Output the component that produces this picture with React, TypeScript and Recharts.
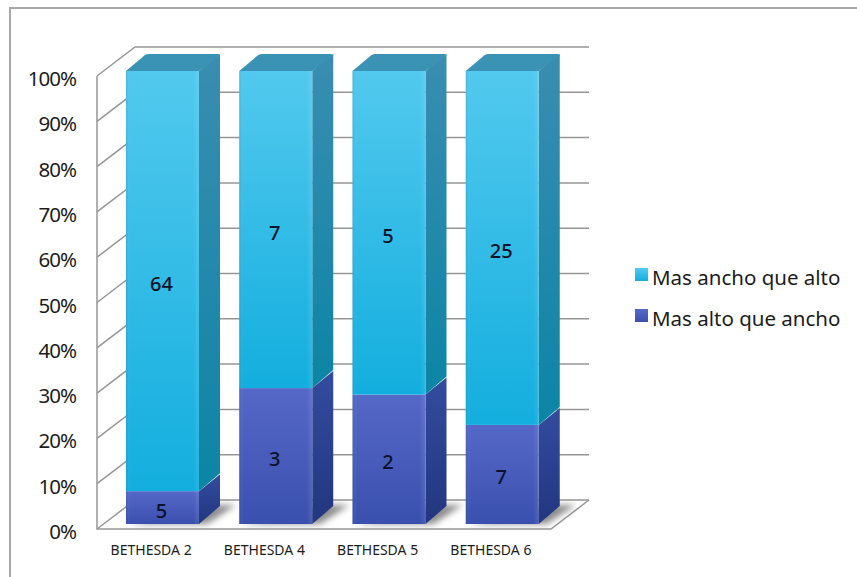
import { Bar, BarChart, CartesianGrid, LabelList, Legend, XAxis, YAxis } from "recharts";

const categories = ["BETHESDA 2", "BETHESDA 4", "BETHESDA 5", "BETHESDA 6"];
const masAltoQueAncho = [5, 3, 2, 7];
const masAnchoQueAlto = [64, 7, 5, 25];
const percentTicks = [0, 0.1, 0.2, 0.3, 0.4, 0.5, 0.6, 0.7, 0.8, 0.9, 1];

const chartData = categories.map((name, i) => ({ name, alto: masAltoQueAncho[i], ancho: masAnchoQueAlto[i] }));

const FONT = "'Noto Sans', sans-serif";
const GRID = "#969696";
const PLOT_TOP = 71;
const PLOT_BOTTOM = 524;
// fake perspective: bar depth, and wall position relative to the bars
const BAR_DX = 21;
const BAR_DY = -17;
const WALL_LEFT = 97;
const WALL_DX = 38;
const WALL_DY = -29;
const WALL_RIGHT = 589;
const FRONT_OFFSET = 5;

function WallLine(props: any) {
  const y = props.y1 + FRONT_OFFSET;
  const isFloor = Math.abs(props.y1 - PLOT_BOTTOM) < 1;
  return (
    <g fill="none" stroke={GRID} strokeWidth={1.5}>
      <path d={`M${WALL_LEFT} ${y}L${WALL_LEFT + WALL_DX} ${y + WALL_DY}L${WALL_RIGHT} ${y + WALL_DY}`} />
      {isFloor && (
        <path
          d={`M${WALL_LEFT} ${PLOT_TOP + FRONT_OFFSET}L${WALL_LEFT} ${y}L${WALL_RIGHT - WALL_DX} ${y}L${WALL_RIGHT} ${y + WALL_DY}`}
        />
      )}
    </g>
  );
}

function Bar3D(props: any) {
  const { x, y, width, height, front, side, withTop, withShadow } = props;
  const r = x + width;
  const b = y + height;
  return (
    <g>
      {withShadow && (
        <path
          d={`M${x + 2} ${b}L${r + 8} ${b}L${r + BAR_DX + 16} ${b + BAR_DY - 2}L${r + BAR_DX - 6} ${b + BAR_DY - 2}Z`}
          fill="#8c8c8c"
          filter="url(#floorShadow)"
        />
      )}
      <path
        d={`M${r} ${y}L${r + BAR_DX} ${y + BAR_DY}L${r + BAR_DX} ${b + BAR_DY - 1}L${r} ${b}Z`}
        fill={`url(#${side})`}
      />
      {withTop && (
        <path
          d={`M${x} ${y}L${x + BAR_DX - 2} ${y + BAR_DY + 1}Q${x + BAR_DX} ${y + BAR_DY} ${x + BAR_DX + 2} ${y + BAR_DY}L${r + BAR_DX - 2} ${y + BAR_DY}Q${r + BAR_DX} ${y + BAR_DY} ${r + BAR_DX} ${y + BAR_DY + 2}L${r} ${y}Z`}
          fill="#3a92b4"
        />
      )}
      <rect x={x} y={y} width={width} height={height} fill={`url(#${front})`} />
      <rect x={x} y={y} width={width} height={height} fill="url(#frontSheen)" />
    </g>
  );
}

function YTick({ y, payload }: any) {
  return (
    <text x={76} y={y + 15} textAnchor="end" fontFamily={FONT} fontSize={20.5} letterSpacing={-1} fill="#1c1c1c">
      {`${Math.round(payload.value * 100)}%`}
    </text>
  );
}

function XTick({ x, y, payload }: any) {
  return (
    <text x={x - 11.5} y={y + 23} textAnchor="middle" fontFamily={FONT} fontSize={14} fill="#1c1c1c">
      {payload.value}
    </text>
  );
}

function CountLabel({ x, y, width, height, value }: any) {
  return (
    <text
      x={x + width / 2 - 1}
      y={y + height / 2 + 10}
      textAnchor="middle"
      fontFamily={FONT}
      fontSize={20}
      fontWeight={500}
      fill="#0b1229"
    >
      {value}
    </text>
  );
}

const legendEntries = [
  { label: "Mas ancho que alto", swatch: "ancho-front" },
  { label: "Mas alto que ancho", swatch: "alto-front" },
];

function LegendBox() {
  return (
    <div style={{ fontFamily: FONT, fontSize: 20.5, color: "#1c1c1c" }}>
      {legendEntries.map((entry) => (
        <div key={entry.label} style={{ display: "flex", alignItems: "center", height: 41, whiteSpace: "nowrap" }}>
          <svg width={13} height={13} style={{ marginRight: 4, marginTop: -4 }}>
            <rect width={13} height={13} fill={`url(#${entry.swatch})`} />
          </svg>
          {entry.label}
        </div>
      ))}
    </div>
  );
}

export default function App() {
  return (
    <div style={{ position: "absolute", left: 0, top: 0, width: 857, height: 577, background: "#fff", overflow: "hidden" }}>
      <div
        style={{
          position: "absolute",
          left: 9,
          top: 7,
          width: 860,
          height: 580,
          borderLeft: "2px solid #a8a8a8",
          borderTop: "2px solid #a8a8a8",
        }}
      />
      <BarChart
        width={857}
        height={577}
        data={chartData}
        stackOffset="expand"
        barSize={73}
        margin={{ top: PLOT_TOP, right: 76, bottom: 0, left: 0 }}
      >
        <defs>
          <linearGradient id="ancho-front" x1="0" y1="0" x2="0" y2="1">
            <stop offset="0" stopColor="#52c9ee" />
            <stop offset="1" stopColor="#13aede" />
          </linearGradient>
          <linearGradient id="ancho-side" x1="0" y1="0" x2="0" y2="1">
            <stop offset="0" stopColor="#3a8db0" />
            <stop offset="1" stopColor="#0c85a5" />
          </linearGradient>
          <linearGradient id="alto-front" x1="0" y1="0" x2="0" y2="1">
            <stop offset="0" stopColor="#5568c8" />
            <stop offset="1" stopColor="#3a50ae" />
          </linearGradient>
          <linearGradient id="alto-side" x1="0" y1="0" x2="0" y2="1">
            <stop offset="0" stopColor="#334c9e" />
            <stop offset="1" stopColor="#23367f" />
          </linearGradient>
          <linearGradient id="frontSheen" x1="0" y1="0" x2="1" y2="0">
            <stop offset="0" stopColor="#0a3a70" stopOpacity={0.14} />
            <stop offset="0.06" stopColor="#ffffff" stopOpacity={0} />
            <stop offset="0.92" stopColor="#ffffff" stopOpacity={0} />
            <stop offset="1" stopColor="#ffffff" stopOpacity={0.1} />
          </linearGradient>
          <filter id="floorShadow" x="-30%" y="-60%" width="160%" height="220%">
            <feGaussianBlur stdDeviation="3" />
          </filter>
        </defs>
        <CartesianGrid vertical={false} horizontal={(p: any) => <WallLine key={p.index} {...p} />} />
        <XAxis dataKey="name" height={53} axisLine={false} tickLine={false} tick={<XTick />} interval={0} />
        <YAxis
          width={106}
          domain={[0, 1]}
          ticks={percentTicks}
          axisLine={false}
          tickLine={false}
          tick={<YTick />}
          interval={0}
        />
        <Legend
          layout="vertical"
          align="right"
          verticalAlign="top"
          width={222}
          content={<LegendBox />}
          wrapperStyle={{ position: "absolute", left: 635, top: 256, width: 222 }}
        />
        <Bar
          dataKey="alto"
          stackId="a"
          isAnimationActive={false}
          shape={(p: any) => <Bar3D {...p} front="alto-front" side="alto-side" withShadow />}
        >
          <LabelList dataKey="alto" content={<CountLabel />} />
        </Bar>
        <Bar
          dataKey="ancho"
          stackId="a"
          isAnimationActive={false}
          shape={(p: any) => <Bar3D {...p} front="ancho-front" side="ancho-side" withTop />}
        >
          <LabelList dataKey="ancho" content={<CountLabel />} />
        </Bar>
      </BarChart>
    </div>
  );
}
